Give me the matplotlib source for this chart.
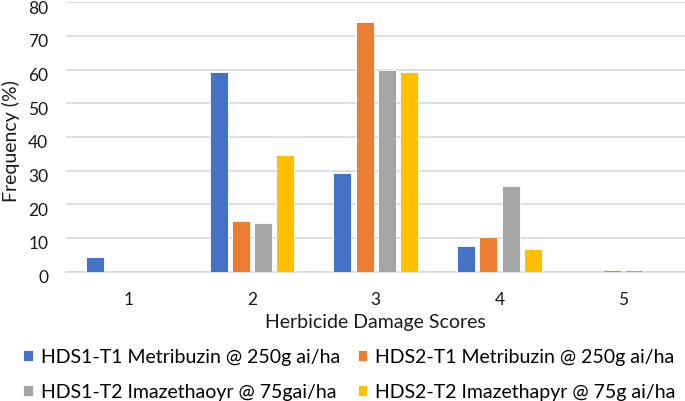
import matplotlib.pyplot as plt
import matplotlib.transforms as mtransforms
import numpy as np

plt.rcParams['font.family'] = ['Lato', 'DejaVu Sans']

# ── Data ─────────────────────────────────────────────────────────────────────
scores = ['1', '2', '3', '4', '5']
series = [
    'HDS1-T1 Metribuzin @ 250g ai/ha',
    'HDS2-T1 Metribuzin @ 250g ai/ha',
    'HDS1-T2 Imazethaoyr @ 75gai/ha',
    'HDS2-T2 Imazethapyr @ 75g ai/ha',
]
hds1_t1 = [4.4, 59.2, 29.2, 7.5, 0.0]
hds2_t1 = [0.0, 14.9, 74.2, 10.4, 0.6]
hds1_t2 = [0.0, 14.3, 60.0, 25.4, 0.6]
hds2_t2 = [0.0, 34.5, 59.2, 6.7, 0.0]
values = [hds1_t1, hds2_t1, hds1_t2, hds2_t2]
colors = ['#4472C4', '#ED7D31', '#A5A5A5', '#FFC000']
TXT = '#1a1a1a'

# ── Plot ─────────────────────────────────────────────────────────────────────
fig = plt.figure(figsize=(6.85, 4.02), dpi=100)
ax = fig.add_axes([0.097, 0.322, 0.903, 0.670])

x = np.arange(len(scores))
bw = 0.145
pitch = 0.18
offsets = (np.arange(len(series)) - 1.5) * pitch

bars = []
for vals, color, off, label in zip(values, colors, offsets, series):
    b = ax.bar(x + off, vals, bw, color=color, edgecolor='white', linewidth=0.6,
               label=label, zorder=3)
    bars.append(b)

ax.set_xlim(-0.5, len(scores) - 0.5)
ax.set_ylim(0, 80)
ax.set_yticks(range(0, 81, 10))
ax.set_xticks(x)
ax.set_xticklabels(scores)
ax.grid(axis='y', color='#D9D9D9', linewidth=1.2, zorder=0)
for s in ['left', 'right', 'top']:
    ax.spines[s].set_visible(False)
ax.spines['bottom'].set_color('#D9D9D9')
ax.spines['bottom'].set_linewidth(1.2)
ax.tick_params(length=0, labelsize=12.5, colors=TXT)
ax.tick_params(axis='y', pad=13)
ax.tick_params(axis='x', pad=14)

# y tick labels sit a little below their gridlines in the original
shift = mtransforms.ScaledTranslation(0, -0.04, fig.dpi_scale_trans)
for lbl in ax.get_yticklabels():
    lbl.set_transform(lbl.get_transform() + shift)

ax.set_ylabel('Frequency (%)', fontsize=14, color=TXT)
ax.yaxis.set_label_coords(-0.075, 0.49)
ax.set_xlabel('Herbicide Damage Scores', fontsize=14, color=TXT, labelpad=4)

# row-wise legend order
order = [0, 2, 1, 3]
fig.legend([bars[i] for i in order], [series[i] for i in order],
           loc='upper left', bbox_to_anchor=(0.034, 0.131), ncol=2, frameon=False,
           fontsize=14, handlelength=0.5, handleheight=0.5, handletextpad=0.4,
           columnspacing=0.9, labelspacing=0.92, borderaxespad=0, borderpad=0)

plt.savefig('out.png', dpi=100)
